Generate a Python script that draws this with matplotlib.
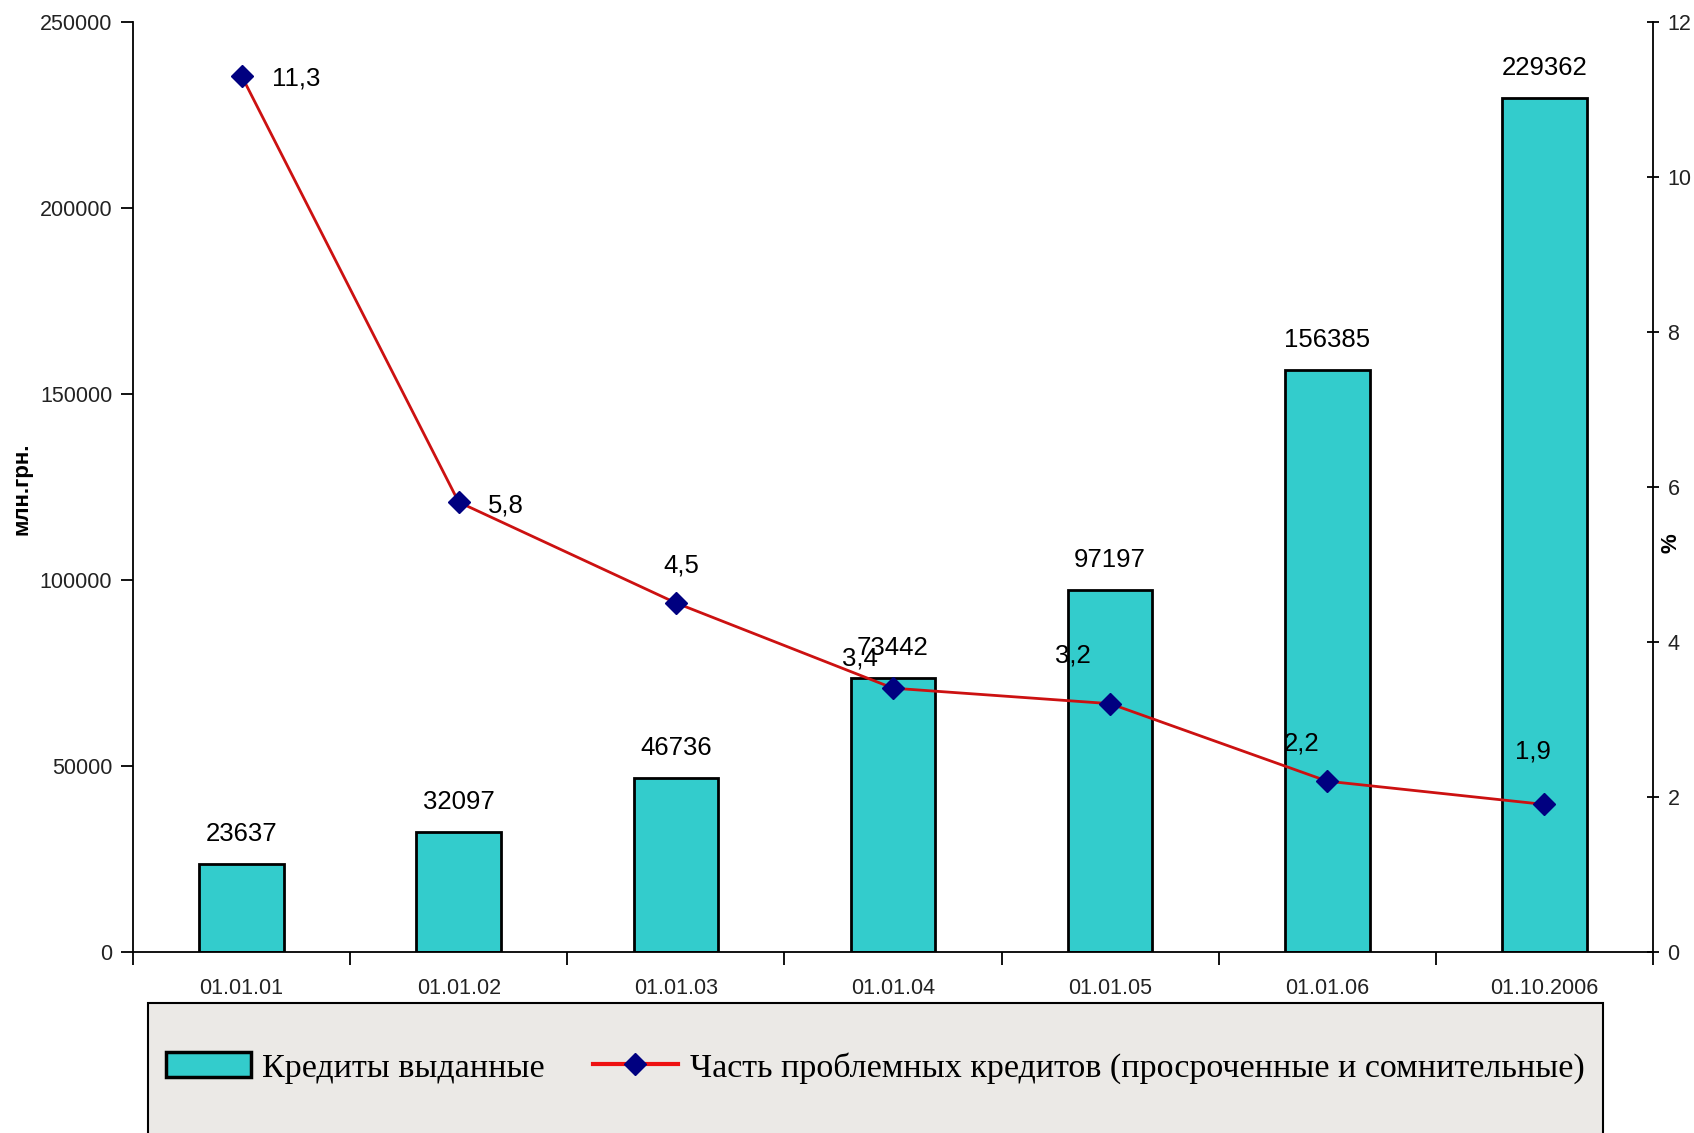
import numpy as np
import matplotlib
matplotlib.use("Agg")
import matplotlib.pyplot as plt
from matplotlib.patches import Rectangle, Patch
from matplotlib.lines import Line2D

dates = ["01.01.01", "01.01.02", "01.01.03", "01.01.04", "01.01.05", "01.01.06", "01.10.2006"]
credits = [23637, 32097, 46736, 73442, 97197, 156385, 229362]
problem_share = [11.3, 5.8, 4.5, 3.4, 3.2, 2.2, 1.9]
# label offsets (pixels) for the percentage labels
pct_offsets = [(55, -3), (47, -3), (5, 37), (-33, 30), (-37, 48), (-26, 38), (-11, 53)]

plt.rcParams["font.family"] = ["Liberation Sans", "DejaVu Sans"]

fig = plt.figure(figsize=(16.94, 11.33), dpi=100)
ax = fig.add_axes([0.0785, 0.160, 0.8973, 0.821])
ax2 = ax.twinx()

x = np.arange(len(dates))
ax.bar(x, credits, width=0.39, color="#33CCCC", edgecolor="black", linewidth=2, zorder=2)
for xi, v in zip(x, credits):
    ax.annotate(str(v), (xi, v), xytext=(0, 18), textcoords="offset pixels",
                ha="center", va="bottom", fontsize=18.5, color="black")

ax2.plot(x, problem_share, color="#CC1111", lw=2, marker="D", ms=11,
         mfc="#000080", mec="#000080", zorder=3)
for xi, v, (dx, dy) in zip(x, problem_share, pct_offsets):
    ax2.annotate(f"{v:.1f}".replace(".", ","), (xi, v), xytext=(dx, dy),
                 textcoords="offset pixels", ha="center", va="center", fontsize=18.5)

ax.set_xlim(-0.5, len(dates) - 0.5)
ax.set_ylim(0, 250000)
ax2.set_ylim(0, 12)
ax.set_yticks(np.arange(0, 250001, 50000))
ax2.set_yticks(np.arange(0, 13, 2))

ax.set_xticks(x)
ax.set_xticklabels(dates)
ax.set_xticks(np.arange(-0.5, len(dates)), minor=True)
ax.tick_params(axis="x", which="major", length=0, pad=19, labelsize=15.5, labelcolor="#222222")
ax.tick_params(axis="x", which="minor", length=9, width=1.3, direction="out")
ax.tick_params(axis="y", length=9, width=1.3, direction="out", labelsize=15.5,
               labelcolor="#222222", pad=6)
ax2.tick_params(axis="y", length=9, width=1.3, direction="inout", labelsize=15.5,
                labelcolor="#222222", pad=6)

for a in (ax, ax2):
    a.spines["top"].set_visible(False)
    for s in a.spines.values():
        s.set_linewidth(1.3)
ax2.spines["bottom"].set_visible(False)
ax2.spines["left"].set_visible(False)
ax.spines["right"].set_visible(False)

ax2.set_zorder(ax.get_zorder() + 1)
ax2.patch.set_visible(False)

fig.text(22 / 1694, 1 - 489 / 1133, "млн.грн.", rotation=90, ha="center", va="center",
         fontsize=16, fontweight="bold")
fig.text(1671 / 1694, 1 - 543 / 1133, "%", rotation=90, ha="center", va="center",
         fontsize=16, fontweight="bold")

# legend box
fig.patches.append(Rectangle((148 / 1694, -0.01), (1603 - 148) / 1694, 0.01 + 1 - 1003 / 1133,
                             transform=fig.transFigure, facecolor="#EBE9E6",
                             edgecolor="black", linewidth=1.5, zorder=0))
handles = [Patch(facecolor="#33CCCC", edgecolor="black", linewidth=2.5),
           Line2D([], [], color="#EE1111", lw=3, marker="D", ms=11,
                  mfc="#000080", mec="#000080")]
labels = ["Кредиты выданные", "Часть проблемных кредитов (просроченные и сомнительные)"]
fig.legend(handles, labels, loc="center", bbox_to_anchor=(875 / 1694, 1 - 1068 / 1133),
           ncol=2, frameon=False, prop={"family": "Liberation Serif", "size": 24.5},
           handlelength=2.5, handleheight=0.75, handletextpad=0.35, columnspacing=1.4)

fig.savefig("out.png", dpi=100)
